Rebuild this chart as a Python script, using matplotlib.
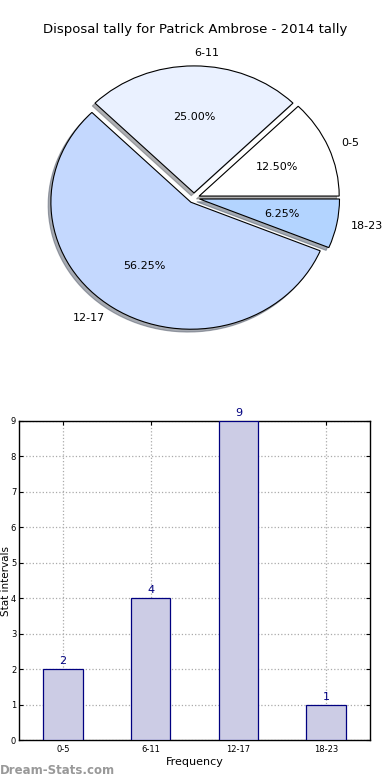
import numpy as np
import matplotlib
matplotlib.use("Agg")
import matplotlib.pyplot as plt

# ------- dane -------
categories = ["0-5", "6-11", "12-17", "18-23"]
counts = [2, 4, 9, 1]
pie_colors = ["#FFFFFF", "#EAF1FF", "#C4D8FE", "#B3D4FF"]
title = "Disposal tally for Patrick Ambrose - 2014 tally"

fig = plt.figure(figsize=(3.9, 7.8), dpi=100)

# ------- wykres kołowy -------
ax1 = fig.add_axes([0, 1 - 355 / 780, 1, 310 / 780])
wedges, texts, autotexts = ax1.pie(
    counts, labels=categories, colors=pie_colors, autopct="%1.2f%%",
    explode=[0.04] * len(counts), startangle=0,
    shadow=dict(ox=-0.014, oy=-0.016, shade=0.6),
    wedgeprops=dict(edgecolor="black", linewidth=0.8),
    textprops=dict(fontsize=8))
texts[1].set_ha("left")
ax1.set_aspect("auto")
ax1.set_xlim(-194 / 140, 196 / 140)
ax1.set_ylim(-157 / 127, 153 / 127)
fig.text(0.5, 1 - 30 / 780, title, ha="center", va="center", fontsize=9.5)

# ------- wykres słupkowy -------
ax2 = fig.add_axes([19 / 390, 1 - 740 / 780, 351 / 390, 319 / 780])
x = np.arange(len(categories))
bars = ax2.bar(x, counts, width=0.45, color="#CCCCE5", edgecolor="#000080",
               linewidth=0.9, zorder=3)
ax2.bar_label(bars, padding=2, color="#000080", fontsize=8)
ax2.set_xlim(-0.5, len(categories) - 0.5)
ax2.set_ylim(0, 9)
ax2.set_yticks(range(0, 10))
ax2.set_xticks(x)
ax2.set_xticklabels(categories)
ax2.tick_params(labelsize=6, direction="in", top=True, right=True, length=3)
ax2.tick_params(axis="y", pad=2)
ax2.grid(True, linestyle=":", color="#AAAAAA", linewidth=0.9, zorder=0)
ax2.set_xlabel("Frequency", fontsize=8, labelpad=2)
ax2.set_ylabel("Stat intervals", fontsize=7.5)
ax2.yaxis.set_label_coords(-8 / 351, 0.5)
for s in ax2.spines.values():
    s.set_linewidth(1)

fig.text(0.0, 1 - 771 / 780, "Dream-Stats.com", ha="left", va="center",
         fontsize=8.5, color="#999999", fontweight="bold")

fig.savefig("out.png", dpi=100)
